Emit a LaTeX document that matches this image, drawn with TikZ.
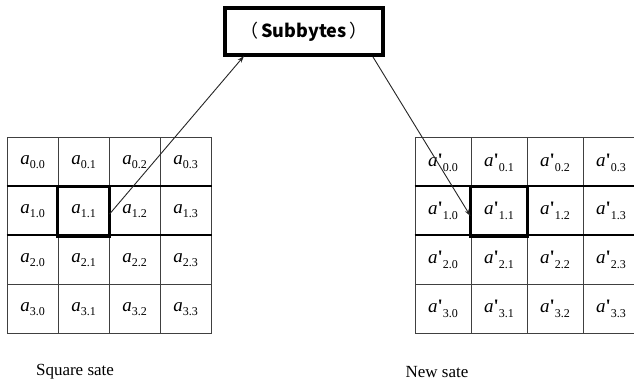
\documentclass[tikz,border=0pt]{standalone}
\usepackage{fontspec}
\setmainfont{Liberation Serif}
\newfontfamily\cjk{Noto Sans CJK SC}
\usetikzlibrary{arrows.meta}
\newcommand\cellA[1]{\fontsize{19}{19}\selectfont\textit{a}\raisebox{-4pt}{\fontsize{12}{12}\selectfont #1}}
\newcommand\cellB[1]{\fontsize{19}{19}\selectfont\textit{a}\textbf{\textquotesingle}\raisebox{-5pt}{\fontsize{12}{12}\selectfont #1}}
\begin{document}
\begin{tikzpicture}[x=1pt,y=-1pt,
  cellL/.style={draw=black!75, line width=1pt, minimum width=51pt, minimum height=48.75pt, inner sep=0pt, anchor=center},
  cellR/.style={draw=black!75, line width=1pt, minimum width=56pt, minimum height=48.75pt, inner sep=0pt, anchor=center},
  hl/.style={line width=3pt, draw=black},
  conn/.style={draw=black!85, line width=0.9pt, -{Stealth[length=7pt,width=4.5pt]}},
  lab/.style={font=\fontsize{17}{17}\selectfont, inner sep=0pt}]
\useasboundingbox (0,0) rectangle (634,382);
\clip (0,0) rectangle (634,382);
\fill[white] (0,0) rectangle (634,382);
\foreach \r in {0,...,3}{
  \foreach \c in {0,...,3}{
    \node[cellL] (L\r\c) at ({7+25.5+51*\c},{138+24.375+48.75*\r}) {\cellA{\r.\c}};
    \node[cellR] (R\r\c) at ({415+28+56*\c},{138+24.375+48.75*\r}) {\cellB{\r.\c}};
  }
}
\draw[line width=1.6pt] (L10.north west) -- (L13.north east);
\draw[line width=1.6pt] (L20.north west) -- (L23.north east);
\draw[line width=1.6pt] (R10.north west) -- (R13.north east);
\draw[line width=1.6pt] (R20.north west) -- (R23.north east);
\draw[hl] (L11.north west) rectangle (L11.south east);
\draw[hl] (R11.north west) rectangle (R11.south east);
\node[draw, line width=4pt, minimum width=158pt, minimum height=47pt, inner sep=0pt, font=\cjk\fontsize{18}{18}\selectfont] (sub) at (304,31.5) {（\,\textbf{Subbytes}\,）};
\draw[conn] ([yshift=-3pt]L11.east) -- ([xshift=21pt,yshift=1pt]sub.south west);
\draw[conn] ([xshift=-12pt]sub.south east) -- ([yshift=-5pt]R11.west);
\node[lab] (lab1) at (75,372) {Square sate};
\node[lab] (lab2) at (437,372) {New sate};
\end{tikzpicture}
\end{document}
